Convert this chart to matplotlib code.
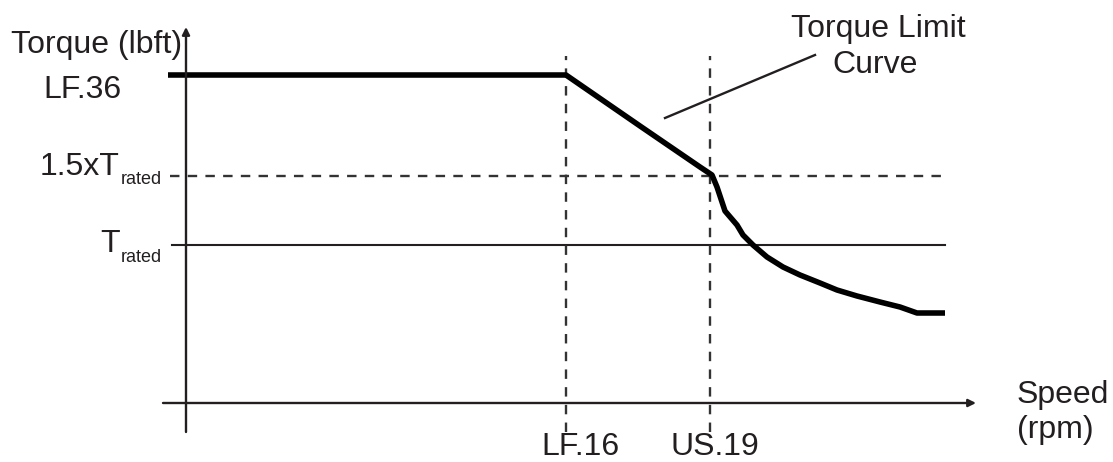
import matplotlib.pyplot as plt

plt.rcParams['font.family'] = ['Liberation Sans', 'DejaVu Sans']

# torque limit curve (speed, torque) in arbitrary drawing units
speed = [-18, 380, 454, 514, 526, 531, 539, 551, 557, 567, 581, 597, 614,
         634, 651, 671, 694, 714, 731, 759]
torque = [328, 328, 277, 236, 228, 216, 192, 178, 168, 158, 146, 136, 128,
          120, 113, 107, 101, 96, 90, 90]

# reference levels
t_lf36 = 328
t_15rated = 227
t_rated = 158
s_lf16 = 380
s_us19 = 524

ink = '#231f20'

fig = plt.figure(figsize=(11.13, 4.62), dpi=100)
ax = fig.add_axes([0, 0, 1, 1])
ax.set_xlim(-186, 927)
ax.set_ylim(-59, 403)
ax.axis('off')

# axes with arrows
ax.annotate('', xy=(0, 376), xytext=(0, -29),
            arrowprops=dict(arrowstyle='-|>', lw=1.7, color=ink,
                            mutation_scale=11, shrinkA=0, shrinkB=0))
ax.annotate('', xy=(790, 0), xytext=(-23, 0),
            arrowprops=dict(arrowstyle='-|>', lw=1.7, color=ink,
                            mutation_scale=11, shrinkA=0, shrinkB=0))

# reference lines
ax.plot([-14, 759], [t_rated, t_rated], color=ink, lw=1.5)
ax.plot([-16, 759], [t_15rated, t_15rated], color='#333333', lw=1.7,
        dashes=(4, 3.5))
for s in [s_lf16, s_us19]:
    ax.plot([s, s], [-29, 347], color='#333333', lw=1.7, dashes=(4, 3.5))

# curve
ax.plot(speed, torque, color='black', lw=4, solid_joinstyle='round',
        solid_capstyle='butt')

# annotation leader
ax.plot([479, 629], [285, 348], color=ink, lw=1.7)

fs = 23
sub = 13
kw = dict(color=ink)
ax.text(-4, 358, 'Torque (lbft)', fontsize=fs, ha='right', va='center', **kw)
ax.text(-64, 305, 'LF.36', fontsize=fs, ha='right', va='baseline', **kw)
ax.text(-66, 228, '1.5xT', fontsize=fs, ha='right', va='baseline', **kw)
ax.text(-65, 219, 'rated', fontsize=sub, ha='left', va='baseline', **kw)
ax.text(-66, 151, 'T', fontsize=fs, ha='right', va='baseline', **kw)
ax.text(-65, 141, 'rated', fontsize=sub, ha='left', va='baseline', **kw)
ax.text(394, -52, 'LF.16', fontsize=fs, ha='center', va='baseline', **kw)
ax.text(529, -52, 'US.19', fontsize=fs, ha='center', va='baseline', **kw)
ax.text(831, 0, 'Speed', fontsize=fs, ha='left', va='baseline', **kw)
ax.text(831, -35, '(rpm)', fontsize=fs, ha='left', va='baseline', **kw)
ax.text(692, 366, 'Torque Limit', fontsize=fs, ha='center', va='baseline', **kw)
ax.text(689, 330, 'Curve', fontsize=fs, ha='center', va='baseline', **kw)

fig.savefig('out.png', dpi=100)
